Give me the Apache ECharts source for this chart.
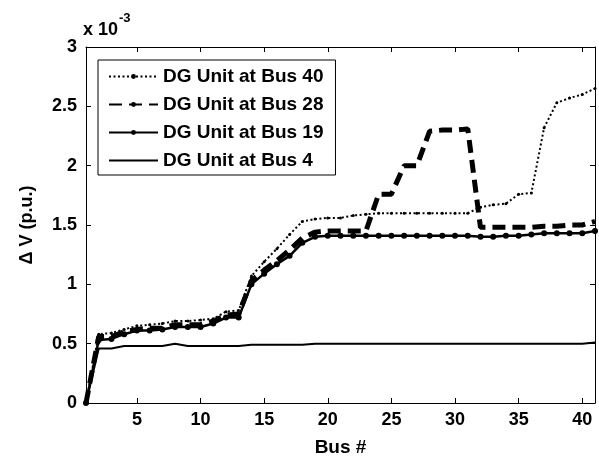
<!DOCTYPE html>
<html>
<head>
<meta charset="utf-8">
<script src="https://cdn.jsdelivr.net/npm/echarts@6/dist/echarts.min.js"></script>
<style>
  html, body { margin: 0; padding: 0; background: #fff; }
  #chart { width: 599px; height: 462px; }
</style>
</head>
<body>
<div id="chart"></div>
<script>
// bus numbers along the feeder
var buses = [1, 2, 3, 4, 5, 6, 7, 8, 9, 10, 11, 12, 13, 14, 15, 16, 17, 18, 19, 20,
             21, 22, 23, 24, 25, 26, 27, 28, 29, 30, 31, 32, 33, 34, 35, 36, 37, 38, 39, 40, 41];
// delta V, in units of 1e-3 p.u.
var dvBus40 = [0, 0.58, 0.59, 0.62, 0.65, 0.66, 0.67, 0.69, 0.69, 0.70, 0.71, 0.77, 0.78, 1.07, 1.19, 1.30, 1.42, 1.53, 1.55, 1.56,
               1.56, 1.58, 1.59, 1.60, 1.60, 1.60, 1.60, 1.60, 1.60, 1.60, 1.60, 1.65, 1.67, 1.68, 1.76, 1.77, 2.32, 2.53, 2.57, 2.60, 2.65];
var dvBus28 = [0, 0.56, 0.56, 0.60, 0.62, 0.63, 0.63, 0.66, 0.66, 0.66, 0.69, 0.74, 0.75, 1.03, 1.12, 1.20, 1.29, 1.39, 1.44, 1.45,
               1.45, 1.45, 1.45, 1.76, 1.76, 2.00, 2.00, 2.29, 2.30, 2.30, 2.31, 1.48, 1.48, 1.48, 1.48, 1.48, 1.49, 1.49, 1.50, 1.50, 1.53];
var dvBus19 = [0, 0.53, 0.54, 0.58, 0.61, 0.61, 0.62, 0.64, 0.64, 0.64, 0.67, 0.72, 0.72, 1.00, 1.09, 1.17, 1.24, 1.35, 1.40, 1.41,
               1.41, 1.41, 1.41, 1.41, 1.41, 1.41, 1.41, 1.41, 1.41, 1.41, 1.41, 1.40, 1.40, 1.41, 1.41, 1.42, 1.43, 1.43, 1.43, 1.43, 1.45];
var dvBus4  = [0, 0.46, 0.46, 0.48, 0.48, 0.48, 0.48, 0.50, 0.48, 0.48, 0.48, 0.48, 0.48, 0.49, 0.49, 0.49, 0.49, 0.49, 0.50, 0.50,
               0.50, 0.50, 0.50, 0.50, 0.50, 0.50, 0.50, 0.50, 0.50, 0.50, 0.50, 0.50, 0.50, 0.50, 0.50, 0.50, 0.50, 0.50, 0.50, 0.50, 0.51];
var seriesNames = ['DG Unit at Bus 40', 'DG Unit at Bus 28', 'DG Unit at Bus 19', 'DG Unit at Bus 4'];
var xTicks = [5, 10, 15, 20, 25, 30, 35, 40];

var FONT = 'Liberation Sans, Arial, sans-serif';

/*把横坐标和数值拼成点对*/
var pairs = function (ys) {
    var out = [];
    for (var i = 0; i < buses.length; i++) {
        out.push([buses[i], ys[i]]);
    }
    return out;
};

var tickStyle = { show: true, inside: true, length: 5, lineStyle: { color: '#000', width: 1 } };
var lineAxis = { show: true, onZero: false, lineStyle: { color: '#000', width: 1 } };
var labelFont = { color: '#000', fontFamily: FONT, fontWeight: 'bold', fontSize: 18 };

var chart = echarts.init(document.getElementById('chart'));
var option = {
    animation: false,
    backgroundColor: '#fff',
    grid: { left: 86, right: 4, top: 47, bottom: 56, containLabel: false },
    legend: {
        // 第四项没有标记点，图例里把点隐藏
        data: [
            { name: seriesNames[0] },
            { name: seriesNames[1] },
            { name: seriesNames[2] },
            { name: seriesNames[3], itemStyle: { opacity: 0 } }
        ],
        orient: 'vertical',
        left: 98,
        top: 60,
        itemWidth: 49,
        itemHeight: 6,
        itemGap: 7,
        padding: [6, 12, 4, 10],
        borderColor: '#000',
        borderWidth: 1,
        backgroundColor: '#fff',
        textStyle: { color: '#000', fontFamily: FONT, fontWeight: 'bold', fontSize: 19, lineHeight: 21 }
    },
    xAxis: [
        {
            type: 'value', min: 1, max: 41,
            name: 'Bus #', nameLocation: 'middle', nameGap: 35,
            nameTextStyle: { color: '#000', fontFamily: FONT, fontWeight: 'bold', fontSize: 19 },
            axisLine: lineAxis,
            axisTick: Object.assign({ customValues: xTicks }, tickStyle),
            axisLabel: Object.assign({ customValues: xTicks, margin: 8 }, labelFont),
            splitLine: { show: false }
        },
        {
            type: 'value', min: 1, max: 41, position: 'top',
            axisLine: lineAxis,
            axisTick: Object.assign({ customValues: xTicks }, tickStyle),
            axisLabel: { show: false },
            splitLine: { show: false }
        }
    ],
    yAxis: [
        {
            type: 'value', min: 0, max: 3, interval: 0.5,
            name: '\u0394 V (p.u.)', nameLocation: 'middle', nameGap: 50, nameRotate: 90,
            nameTextStyle: { color: '#000', fontFamily: FONT, fontWeight: 'bold', fontSize: 18 },
            axisLine: lineAxis,
            axisTick: tickStyle,
            axisLabel: Object.assign({ margin: 9 }, labelFont),
            splitLine: { show: false }
        },
        {
            type: 'value', min: 0, max: 3, interval: 0.5, position: 'right',
            axisLine: lineAxis,
            axisTick: tickStyle,
            axisLabel: { show: false },
            splitLine: { show: false }
        }
    ],
    graphic: [
        { type: 'text', left: 83, top: 21, style: { text: 'x 10', fill: '#000', font: 'bold 18px ' + FONT } },
        { type: 'text', left: 119, top: 12, style: { text: '-3', fill: '#000', font: 'bold 13px ' + FONT } }
    ],
    series: [
        {
            name: seriesNames[0], type: 'line', data: pairs(dvBus40),
            symbol: 'circle', symbolSize: 3,
            itemStyle: { color: '#000' },
            lineStyle: { color: '#000', width: 2, type: [2, 2.5] }
        },
        {
            name: seriesNames[1], type: 'line', data: pairs(dvBus28),
            symbol: 'circle', showSymbol: false,
            itemStyle: { color: '#000' },
            lineStyle: { color: '#000', width: 5, type: [13, 7] }
        },
        {
            name: seriesNames[2], type: 'line', data: pairs(dvBus19),
            symbol: 'circle', symbolSize: 6,
            itemStyle: { color: '#000' },
            lineStyle: { color: '#000', width: 2.5 }
        },
        {
            name: seriesNames[3], type: 'line', data: pairs(dvBus4),
            symbol: 'none',
            itemStyle: { color: '#000' },
            lineStyle: { color: '#000', width: 2 }
        }
    ]
};
chart.setOption(option);
</script>
</body>
</html>
